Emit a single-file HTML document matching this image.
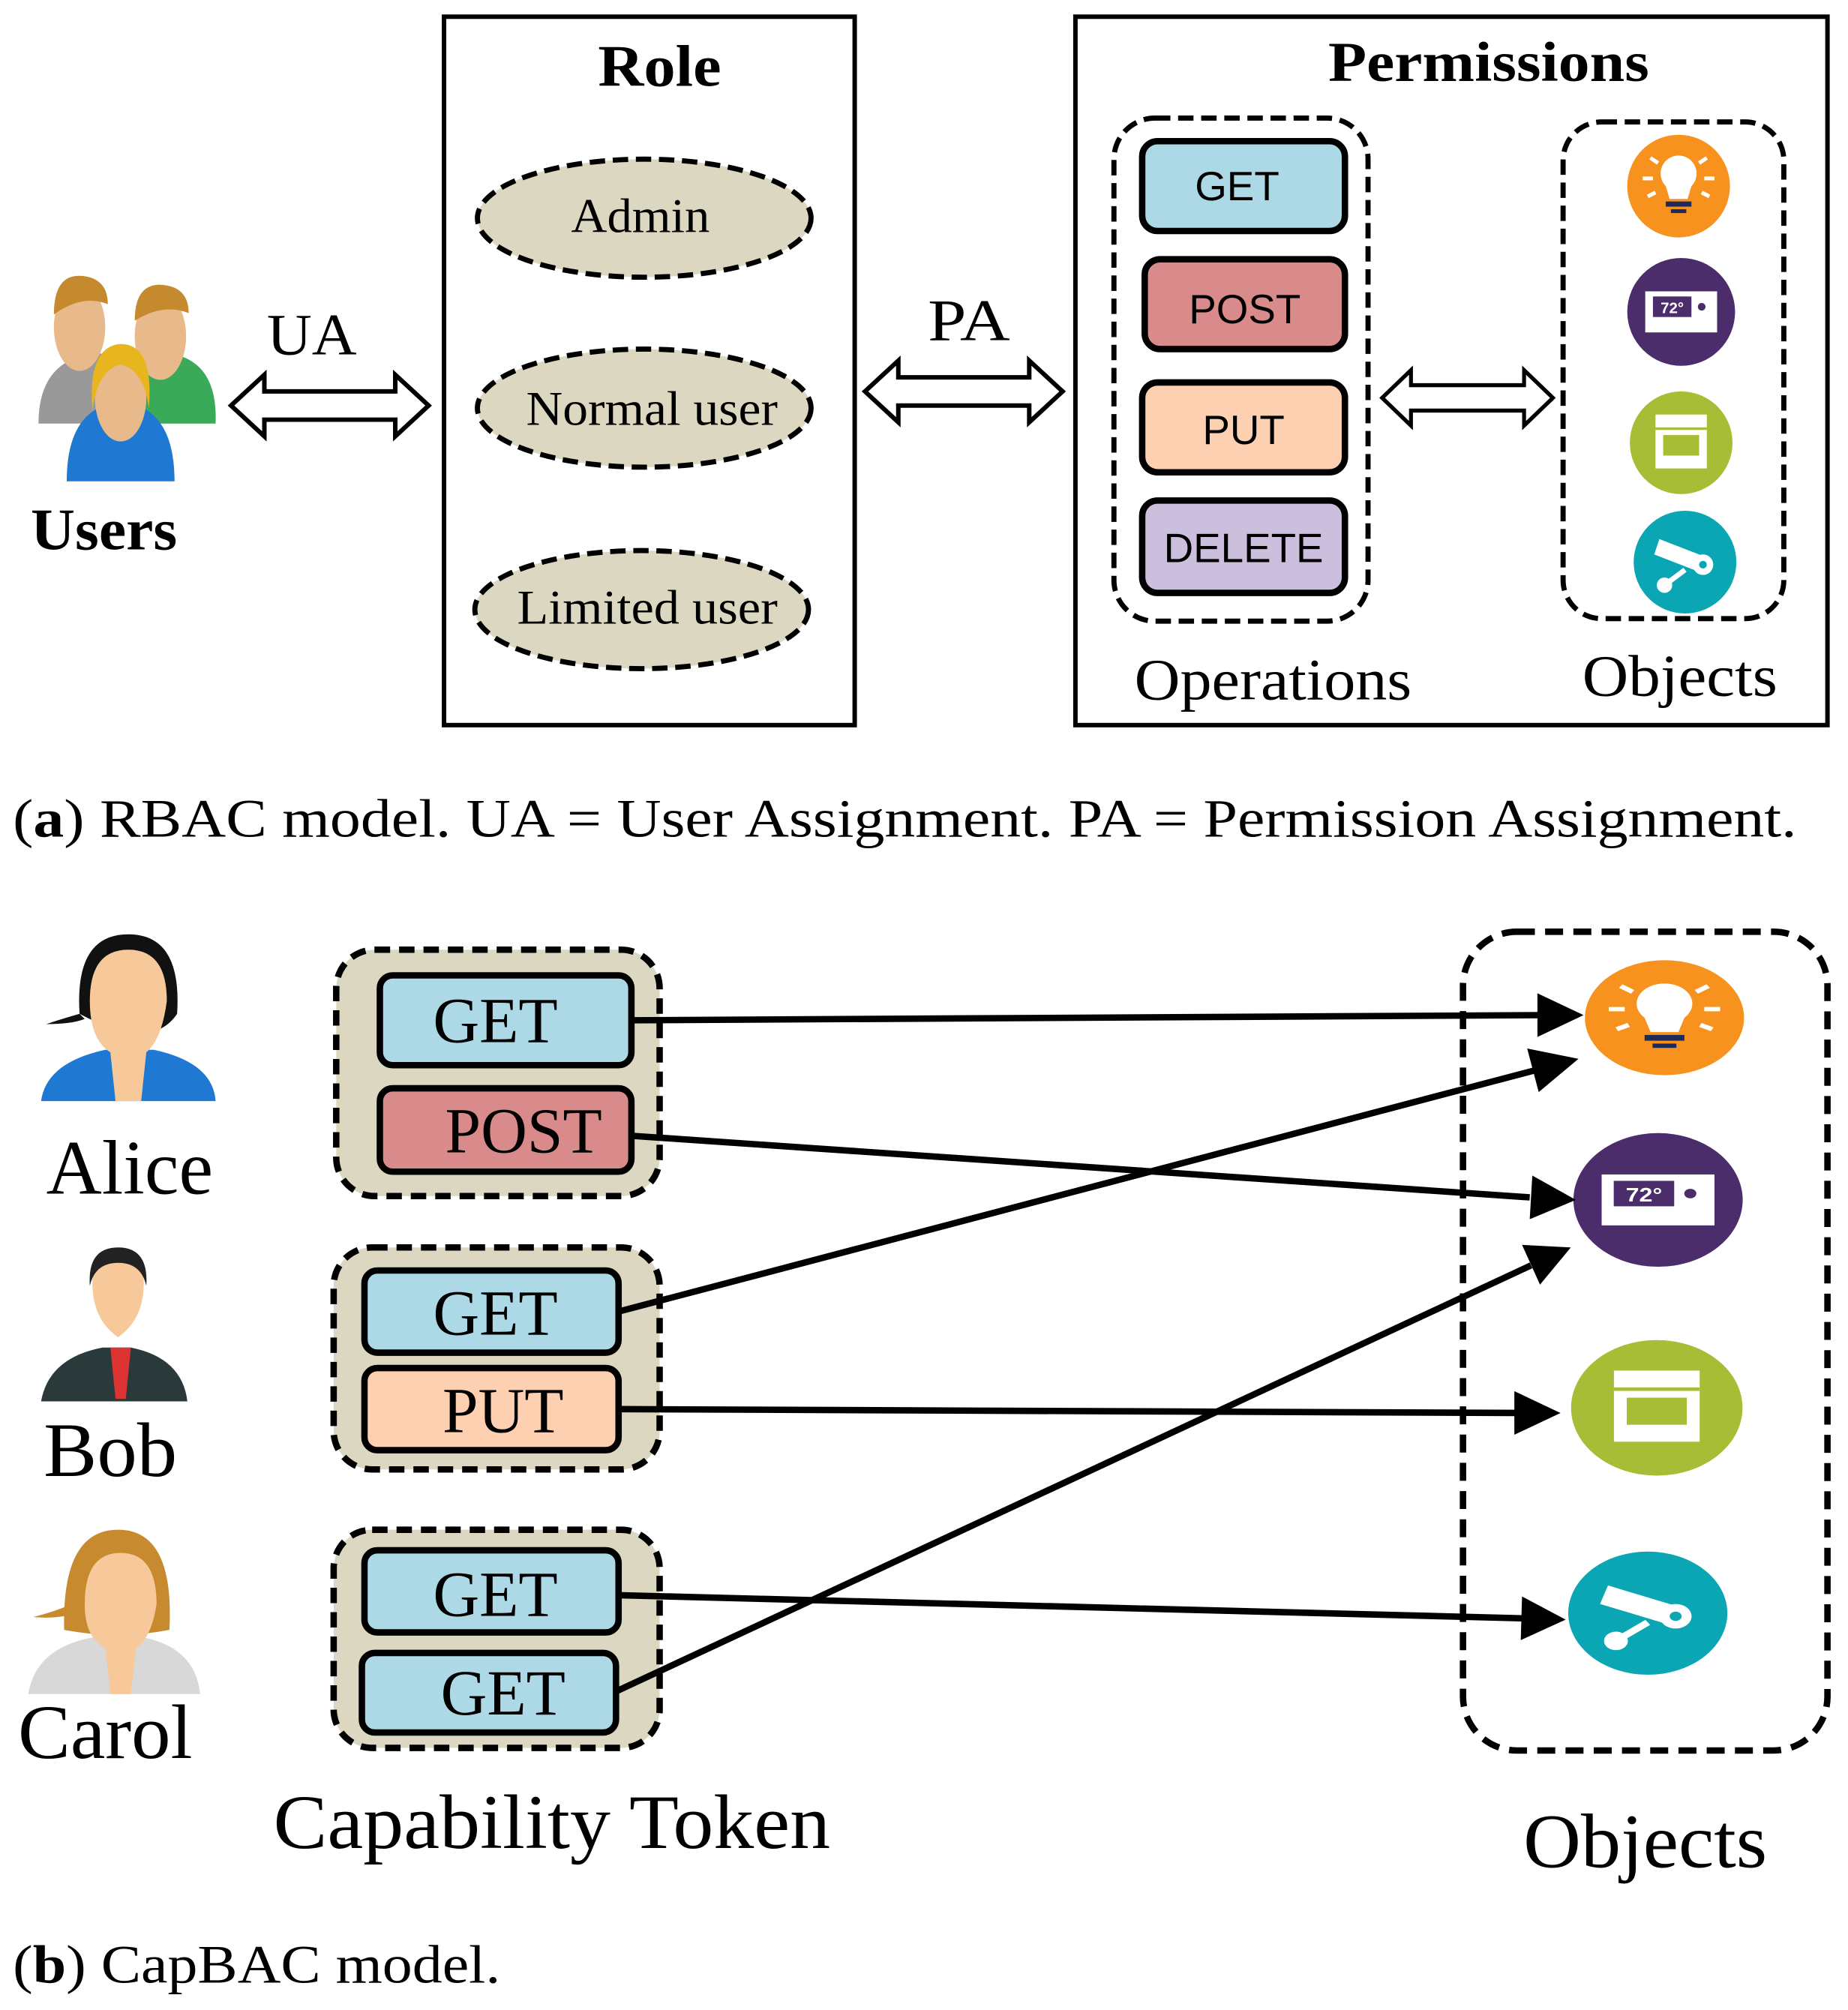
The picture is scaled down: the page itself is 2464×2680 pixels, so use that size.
<!DOCTYPE html>
<html><head><style>html,body{margin:0;padding:0;background:#fff}svg{display:block}</style></head>
<body>
<svg width="2464" height="2680" viewBox="0 0 1440 1566.2" xmlns="http://www.w3.org/2000/svg">
<defs>
<g id="dbl"><path d="M0,0 L26,-24 L26,-11 L128,-11 L128,-24 L154,0 L128,24 L128,11 L26,11 L26,24 Z" fill="#fff" stroke="#000" stroke-width="3.5" stroke-linejoin="miter"/></g>
<g id="bulb"><circle r="40" fill="#f7921e"/><path d="M-7,10 L-10,0 a14,14 0 1 1 20,0 L7,10 z" fill="#fff"/><rect x="-10" y="12" width="20" height="4" fill="#1d2a5a"/><rect x="-6" y="18" width="12" height="3" fill="#1d2a5a"/><g stroke="#fff" stroke-width="3"><line x1="-28" y1="-6" x2="-20" y2="-6"/><line x1="20" y1="-6" x2="28" y2="-6"/><line x1="-22" y1="-22" x2="-16" y2="-18"/><line x1="22" y1="-22" x2="16" y2="-18"/><line x1="-24" y1="8" x2="-18" y2="5"/><line x1="24" y1="8" x2="18" y2="5"/></g></g>
<g id="thermo"><circle r="42" fill="#4b2d6b"/><rect x="-28" y="-16" width="56" height="32" fill="#fff"/><rect x="-22" y="-12" width="30" height="16" fill="#4b2d6b"/><text x="-7" y="1" font-family="Liberation Sans" font-size="12" font-weight="bold" fill="#fff" text-anchor="middle">72°</text><circle cx="16" cy="-4" r="3" fill="#4b2d6b"/></g>
<g id="oven"><circle r="40" fill="#a7bd36"/><rect x="-20" y="-22" width="40" height="42" fill="#fff"/><rect x="-14" y="-6" width="28" height="16" fill="#a7bd36"/><rect x="-20" y="-12" width="40" height="2" fill="#a7bd36"/></g>
<g id="cam"><circle r="40" fill="#0aa6b4"/><path d="M-20,-18 L16,-4 L12,8 L-24,-6 Z" fill="#fff"/><circle cx="14" cy="2" r="8" fill="#fff"/><circle cx="14" cy="2" r="3" fill="#0aa6b4"/><circle cx="-16" cy="18" r="6" fill="#fff"/><line x1="-16" y1="18" x2="0" y2="6" stroke="#fff" stroke-width="4"/></g>
</defs>

<!-- Users icon -->
<g>
<path d="M30,330 q0,-50 45,-55 q45,5 45,55 z" fill="#999"/>
<ellipse cx="62" cy="255" rx="20" ry="34" fill="#e8b98a"/><path d="M42,245 q0,-32 22,-30 q20,2 20,22 q-20,-8 -42,8z" fill="#c58a2e"/>
<path d="M90,330 q0,-50 40,-55 q40,5 38,55 z" fill="#3aaa5a"/>
<ellipse cx="125" cy="262" rx="20" ry="34" fill="#e8b98a"/><path d="M105,250 q0,-30 22,-28 q20,2 20,22 q-20,-8 -42,6z" fill="#c58a2e"/>
<path d="M52,375 q0,-58 42,-62 q42,4 42,62 z" fill="#1f78d1"/>
<ellipse cx="94" cy="310" rx="20" ry="34" fill="#e8b98a"/><path d="M72,320 q-4,-50 22,-52 q26,0 22,50 q-4,-30 -22,-34 q-18,4 -22,36z" fill="#e7b51d"/>
</g>
<text x="24" y="428" font-family="Liberation Serif" font-weight="bold" font-size="46" textLength="114" lengthAdjust="spacingAndGlyphs">Users</text>
<text x="208" y="276" font-family="Liberation Serif" font-size="46" textLength="70" lengthAdjust="spacingAndGlyphs">UA</text>
<use href="#dbl" x="180" y="316"/>

<rect x="346" y="13" width="320" height="552" fill="none" stroke="#000" stroke-width="3.5"/>
<text x="466" y="67" font-family="Liberation Serif" font-weight="bold" font-size="46" textLength="96" lengthAdjust="spacingAndGlyphs">Role</text>
<g fill="#dcd7c0" stroke="#000" stroke-width="4" stroke-dasharray="12,6">
<ellipse cx="502" cy="170" rx="130" ry="46"/>
<ellipse cx="502" cy="318" rx="130" ry="46"/>
<ellipse cx="500" cy="475" rx="130" ry="46"/>
</g>
<g font-family="Liberation Serif" font-size="38">
<text x="445" y="181" textLength="108" lengthAdjust="spacingAndGlyphs">Admin</text>
<text x="410" y="331" textLength="196" lengthAdjust="spacingAndGlyphs">Normal user</text>
<text x="403" y="486" textLength="203" lengthAdjust="spacingAndGlyphs">Limited user</text>
</g>

<text x="723" y="265" font-family="Liberation Serif" font-size="46" textLength="64" lengthAdjust="spacingAndGlyphs">PA</text>
<use href="#dbl" x="674" y="305"/>

<rect x="838" y="13" width="586" height="552" fill="none" stroke="#000" stroke-width="3.5"/>
<text x="1035" y="63" font-family="Liberation Serif" font-weight="bold" font-size="44" textLength="250" lengthAdjust="spacingAndGlyphs">Permissions</text>
<rect x="868" y="92" width="198" height="392" rx="32" fill="none" stroke="#000" stroke-width="4" stroke-dasharray="12,6"/>
<g stroke="#000" stroke-width="5">
<rect x="890" y="110" width="158" height="70" rx="12" fill="#add8e6"/>
<rect x="892" y="202" width="156" height="70" rx="12" fill="#d98b8b"/>
<rect x="890" y="298" width="158" height="70" rx="12" fill="#fdd0b1"/>
<rect x="890" y="390" width="158" height="72" rx="12" fill="#cbbfdd"/>
</g>
<g font-family="Liberation Sans" font-size="32" text-anchor="middle">
<text x="964" y="156">GET</text>
<text x="970" y="252">POST</text>
<text x="969" y="346">PUT</text>
<text x="969" y="438">DELETE</text>
</g>
<use href="#dbl" transform="translate(1077,310) scale(0.864,0.9)"/>
<rect x="1218" y="95" width="172" height="387" rx="30" fill="none" stroke="#000" stroke-width="4" stroke-dasharray="12,6"/>
<use href="#bulb" x="1308" y="145"/>
<use href="#thermo" x="1310" y="243"/>
<use href="#oven" x="1310" y="345"/>
<use href="#cam" x="1313" y="438"/>
<text x="884" y="545" font-family="Liberation Serif" font-size="46" textLength="216" lengthAdjust="spacingAndGlyphs">Operations</text>
<text x="1233" y="542" font-family="Liberation Serif" font-size="46" textLength="152" lengthAdjust="spacingAndGlyphs">Objects</text>

<text x="10" y="652" font-family="Liberation Serif" font-size="42" textLength="1390" lengthAdjust="spacingAndGlyphs">(<tspan font-weight="bold">a</tspan>) RBAC model. UA = User Assignment. PA = Permission Assignment.</text>

<!-- Alice -->
<path d="M32,858 q4,-30 50,-40 l38,0 q46,10 48,40 z" fill="#1f78d1"/>
<path d="M62,790 q-4,-62 38,-62 q42,0 38,62 q-20,30 -76,0z" fill="#111"/>
<path d="M70,780 q0,-40 30,-40 q30,0 30,40 q-4,30 -16,40 l-4,38 h-20 l-4,-38 q-16,-10 -16,-40z" fill="#f6c89a"/>
<path d="M62,790 q-14,4 -26,8 q20,0 30,-4z" fill="#111"/>
<text x="36" y="930" font-family="Liberation Serif" font-size="60" textLength="130" lengthAdjust="spacingAndGlyphs">Alice</text>
<!-- Bob -->
<path d="M32,1092 q6,-34 48,-42 l22,0 q40,8 44,42 z" fill="#2a3a3a"/>
<path d="M86,1050 h16 l-4,40 h-8z" fill="#d33"/>
<path d="M72,1000 q0,-26 20,-26 q20,0 20,26 q0,28 -20,42 q-20,-14 -20,-42z" fill="#f6c89a"/>
<path d="M70,1002 q-2,-30 22,-30 q24,0 22,30 q-4,-18 -22,-18 q-18,0 -22,18z" fill="#222"/>
<text x="34" y="1150" font-family="Liberation Serif" font-size="60" textLength="104" lengthAdjust="spacingAndGlyphs">Bob</text>
<!-- Carol -->
<path d="M22,1320 q6,-36 50,-44 l40,0 q40,8 44,44 z" fill="#d8d8d8"/>
<path d="M50,1270 q-2,-78 42,-78 q44,0 40,78 q-40,8 -82,0z" fill="#c88a2e"/>
<path d="M66,1250 q0,-40 28,-40 q28,0 28,40 q-4,26 -16,34 l-4,36 h-16 l-4,-36 q-16,-8 -16,-34z" fill="#f6c89a"/>
<path d="M56,1250 q-14,6 -30,10 q20,2 36,-4z" fill="#c88a2e"/>
<text x="14" y="1370" font-family="Liberation Serif" font-size="60" textLength="136" lengthAdjust="spacingAndGlyphs">Carol</text>

<g fill="#dcd7c0" stroke="#000" stroke-width="5" stroke-dasharray="12,7">
<rect x="262" y="740" width="252" height="192" rx="30"/>
<rect x="260" y="972" width="254" height="173" rx="30"/>
<rect x="260" y="1192" width="254" height="170" rx="30"/>
</g>
<g stroke="#000" stroke-width="5">
<rect x="296" y="760" width="196" height="70" rx="10" fill="#add8e6"/>
<rect x="296" y="848" width="196" height="65" rx="10" fill="#d98b8b"/>
<rect x="284" y="990" width="198" height="64" rx="10" fill="#add8e6"/>
<rect x="284" y="1066" width="198" height="64" rx="10" fill="#fdd0b1"/>
<rect x="284" y="1208" width="198" height="64" rx="10" fill="#add8e6"/>
<rect x="282" y="1288" width="198" height="62" rx="10" fill="#add8e6"/>
</g>
<g font-family="Liberation Serif" font-size="50" text-anchor="middle">
<text x="386" y="812">GET</text>
<text x="408" y="898">POST</text>
<text x="386" y="1040">GET</text>
<text x="392" y="1116">PUT</text>
<text x="386" y="1259">GET</text>
<text x="392" y="1336">GET</text>
</g>

<rect x="1140" y="726" width="284" height="638" rx="42" fill="none" stroke="#000" stroke-width="5" stroke-dasharray="14,8"/>
<g transform="translate(1297,793) scale(1.55,1.12)"><use href="#bulb"/></g>
<g transform="translate(1292,935) scale(1.57,1.24)"><use href="#thermo"/></g>
<g transform="translate(1291,1097) scale(1.67,1.32)"><use href="#oven"/></g>
<g transform="translate(1284,1257) scale(1.55,1.2)"><use href="#cam"/></g>

<g stroke="#000" stroke-width="5" fill="#000">
<line x1="492" y1="795" x2="1200" y2="791"/><polygon points="1234,791 1198,774 1198,808" stroke="none"/>
<line x1="492" y1="885" x2="1192" y2="933"/><polygon points="1228,935 1194,916 1192,950" stroke="none"/>
<line x1="482" y1="1022" x2="1196" y2="834"/><polygon points="1230,825 1190,817 1199,851" stroke="none"/>
<line x1="482" y1="1098" x2="1182" y2="1101"/><polygon points="1216,1101 1180,1084 1180,1118" stroke="none"/>
<line x1="482" y1="1243" x2="1186" y2="1261"/><polygon points="1220,1262 1186,1244 1185,1278" stroke="none"/>
<line x1="480" y1="1318" x2="1193" y2="986"/><polygon points="1224,972 1186,970 1200,1001" stroke="none"/>
</g>

<text x="213" y="1440" font-family="Liberation Serif" font-size="60" textLength="434" lengthAdjust="spacingAndGlyphs">Capability Token</text>
<text x="1187" y="1455" font-family="Liberation Serif" font-size="60" textLength="190" lengthAdjust="spacingAndGlyphs">Objects</text>
<text x="10" y="1545" font-family="Liberation Serif" font-size="42" textLength="380" lengthAdjust="spacingAndGlyphs">(<tspan font-weight="bold">b</tspan>) CapBAC model.</text>
</svg>
</body></html>
